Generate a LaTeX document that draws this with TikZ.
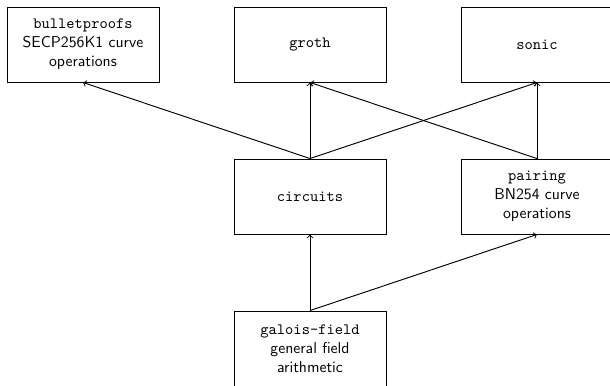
\documentclass[tikz,border=0pt]{standalone}
\renewcommand{\familydefault}{\sfdefault}
\begin{document}
\begin{tikzpicture}[x=0.636pt,y=-0.636pt,
  box/.style={draw,semithick,minimum width=152*0.636pt,minimum height=75*0.636pt,align=center,inner sep=0pt},
  arr/.style={->,semithick}]
\useasboundingbox (0,0) rectangle (610,385);
\clip (0,0) rectangle (610,385);
\node[box] (bp) at (83,44.5) {\texttt{bulletproofs}\\SECP256K1 curve\\operations};
\node[box] (groth) at (310,44.5) {\texttt{groth}};
\node[box] (sonic) at (537,44.5) {\texttt{sonic}};
\node[box] (circ) at (310,196.5) {\texttt{circuits}};
\node[box] (pair) at (537,196.5) {\texttt{pairing}\\BN254 curve\\operations};
\node[box] (gf) at (310,348.5) {\texttt{galois-field}\\general field\\arithmetic};
\draw[arr] (circ.north) -- (bp.south);
\draw[arr] (circ.north) -- (groth.south);
\draw[arr] (circ.north) -- (sonic.south);
\draw[arr] (pair.north) -- (groth.south);
\draw[arr] (pair.north) -- (sonic.south);
\draw[arr] (gf.north) -- (circ.south);
\draw[arr] (gf.north) -- (pair.south);
\end{tikzpicture}
\end{document}
